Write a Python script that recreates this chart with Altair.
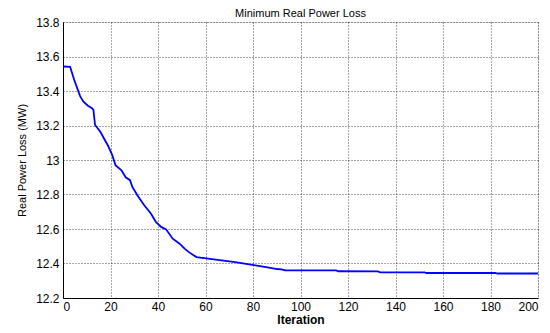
import altair as alt
import pandas as pd

iterations = [0, 3, 4.7, 7.2, 8.6, 10.5, 12.2, 12.8, 13.5, 15.7, 18.8, 20.7, 22.1, 24.6, 26.4,
              28.2, 29.2, 31.3, 34.2, 37, 39.1, 41.3, 43.4, 46.2, 49.1, 51.2, 53.3, 56.2,
              61.1, 72.5, 81, 86.7, 90.2, 92, 93.5, 115, 116, 132.6, 133.5, 152.3, 153,
              182, 183, 200]
loss = [13.542, 13.540, 13.465, 13.37, 13.338, 13.315, 13.30, 13.29, 13.203, 13.164, 13.087,
        13.03, 12.97, 12.94, 12.90, 12.883, 12.844, 12.796, 12.738, 12.69, 12.641, 12.612,
        12.598, 12.544, 12.515, 12.486, 12.463, 12.437, 12.428, 12.408, 12.389, 12.376,
        12.368, 12.366, 12.360, 12.360, 12.355, 12.354, 12.349, 12.348, 12.345, 12.345,
        12.342, 12.342]

df = pd.DataFrame({"it": iterations, "loss": loss})

x_ticks = [0, 20, 40, 60, 80, 100, 120, 140, 160, 180, 200]
y_ticks = [12.2, 12.4, 12.6, 12.8, 13.0, 13.2, 13.4, 13.6, 13.8]

font = "Liberation Sans"

chart = alt.Chart(df).mark_line(color="#0000ff", strokeWidth=1.8).encode(
    x=alt.X("it:Q", title="Iteration",
            scale=alt.Scale(domain=[0, 200], nice=False, zero=False),
            axis=alt.Axis(values=x_ticks, labelFontSize=12, titleFontSize=12,
                          titleFontWeight="bold", labelColor="black", titleColor="black",
                          titlePadding=2, labelPadding=3, ticks=False,
                          domainColor="black", gridColor="#000000", gridOpacity=0.7,
                          gridDash=[1, 2], labelFont=font, titleFont=font)),
    y=alt.Y("loss:Q", title="Real Power Loss (MW)",
            scale=alt.Scale(domain=[12.2, 13.8], nice=False, zero=False),
            axis=alt.Axis(values=y_ticks, labelFontSize=12, titleFontSize=11,
                          titleFontWeight="normal", labelColor="black", titleColor="black",
                          titlePadding=8, labelPadding=4, ticks=False,
                          domainColor="black", gridColor="#000000", gridOpacity=0.7,
                          gridDash=[1, 2], labelFont=font, titleFont=font,
                          labelExpr="datum.value == 13 ? '13' : format(datum.value, '.1f')")),
).properties(
    width=475, height=276,
    title=alt.TitleParams("Minimum Real Power Loss", fontSize=11, fontWeight="normal",
                          font=font, color="black", offset=-3),
    autosize=alt.AutoSizeParams(type="none"),
    padding={"left": 55, "top": 14, "right": 4, "bottom": 35},
).configure_view(stroke="black", strokeWidth=1).configure(background="white")

chart.save("out.html", embed_options={"renderer": "svg", "actions": False})
